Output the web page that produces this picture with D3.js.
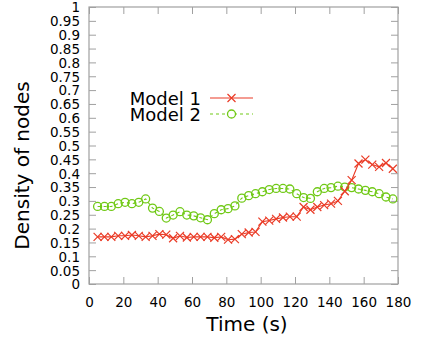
<!DOCTYPE html>
<html>
<head>
<meta charset="utf-8">
<script src="https://cdn.jsdelivr.net/npm/d3@7"></script>
<style>
  html, body { margin: 0; padding: 0; background: #fff; }
  svg { display: block; font-family: "DejaVu Sans", sans-serif; }
</style>
</head>
<body>
<svg id="chart" width="422" height="342"></svg>
<script>
// Sampling times (s)
const times = [5, 9, 13, 17, 21, 25, 29, 33, 37, 41, 45, 49, 53, 57, 61, 65, 69, 73, 77, 81, 85, 89,
  93, 97, 101, 105, 109, 113, 117, 121, 125, 129, 133, 137, 141, 145, 149, 153, 157, 161, 165, 169, 173, 177];

// Density of nodes, Model 1
const model1 = [0.170, 0.170, 0.170, 0.174, 0.174, 0.177, 0.174, 0.170, 0.174, 0.180, 0.178, 0.165,
  0.174, 0.168, 0.170, 0.170, 0.170, 0.167, 0.170, 0.160, 0.162, 0.180, 0.186, 0.188, 0.225, 0.229,
  0.235, 0.240, 0.243, 0.243, 0.278, 0.268, 0.278, 0.285, 0.290, 0.300, 0.335, 0.375, 0.435, 0.449,
  0.431, 0.423, 0.437, 0.416];

// Density of nodes, Model 2
const model2 = [0.280, 0.280, 0.280, 0.290, 0.295, 0.290, 0.295, 0.307, 0.274, 0.262, 0.238, 0.249,
  0.261, 0.249, 0.246, 0.239, 0.232, 0.254, 0.268, 0.272, 0.282, 0.310, 0.319, 0.326, 0.333, 0.341,
  0.345, 0.345, 0.343, 0.326, 0.312, 0.309, 0.333, 0.345, 0.348, 0.353, 0.350, 0.348, 0.343, 0.338,
  0.333, 0.326, 0.314, 0.307];

const seriesNames = ["Model 1", "Model 2"];
const xTicks = d3.range(0, 181, 20);
const yTicks = d3.range(0, 1.0001, 0.05);

const svg = d3.select("#chart");
const plotL = 89, plotR = 398, plotT = 7, plotB = 284;
const x = d3.scaleLinear().domain([0, 180]).range([plotL, plotR]);
const y = d3.scaleLinear().domain([0, 1]).range([plotB, plotT]);

const red = "#ea3b26", green = "#70c916", axisGrey = "#a0a0a0";
const tickLen = 7;

// Axes: labels outside, ticks pointing inward on all four sides
const fmtY = v => d3.format("~g")(+v.toFixed(2));
const gL = svg.append("g").attr("transform", `translate(${plotL},0)`)
  .call(d3.axisLeft(y).tickValues(yTicks).tickSize(-tickLen).tickPadding(9).tickFormat(fmtY));
const gR = svg.append("g").attr("transform", `translate(${plotR},0)`)
  .call(d3.axisRight(y).tickValues(yTicks).tickSize(-tickLen).tickFormat(""));
const gB = svg.append("g").attr("transform", `translate(0,${plotB})`)
  .call(d3.axisBottom(x).tickValues(xTicks).tickSize(-tickLen).tickPadding(13).tickFormat(d3.format("d")));
const gT = svg.append("g").attr("transform", `translate(0,${plotT})`)
  .call(d3.axisTop(x).tickValues(xTicks).tickSize(-tickLen).tickFormat(""));

[gL, gR, gB, gT].forEach(g => {
  g.selectAll(".domain").remove();
  g.selectAll(".tick line").attr("stroke", axisGrey).attr("stroke-width", 1);
  g.selectAll(".tick text").attr("fill", "#000").style("font-size", "13.5px")
    .style("font-family", "DejaVu Sans, sans-serif");
});
gL.selectAll(".tick text").attr("dy", "0.36em");

// Plot frame
svg.append("rect")
  .attr("x", plotL).attr("y", plotT)
  .attr("width", plotR - plotL).attr("height", plotB - plotT)
  .attr("fill", "none").attr("stroke", axisGrey).attr("stroke-width", 1.2);

// Axis titles
svg.append("text")
  .attr("transform", `translate(29,${(plotT + plotB) / 2 + 20}) rotate(-90)`)
  .attr("text-anchor", "middle").style("font-size", "20px").text("Density of nodes");
svg.append("text")
  .attr("x", 247).attr("y", 331)
  .attr("text-anchor", "middle").style("font-size", "20px").text("Time (s)");

const line = d3.line().x(d => x(d[0])).y(d => y(d[1]));
const pts1 = times.map((t, i) => [t, model1[i]]);
const pts2 = times.map((t, i) => [t, model2[i]]);

// Model 2: dashed green line with open circles
svg.append("path").datum(pts2).attr("d", line)
  .attr("fill", "none").attr("stroke", green).attr("stroke-width", 1.1)
  .attr("stroke-dasharray", "3,3");
svg.append("g").selectAll("circle").data(pts2).join("circle")
  .attr("cx", d => x(d[0])).attr("cy", d => y(d[1])).attr("r", 4)
  .attr("fill", "none").attr("stroke", green).attr("stroke-width", 1.3);

// Model 1: solid red line with x markers
const cross = (g, cx, cy, s) => g.append("path")
  .attr("d", `M${cx - s},${cy - s}L${cx + s},${cy + s}M${cx - s},${cy + s}L${cx + s},${cy - s}`)
  .attr("stroke", red).attr("stroke-width", 1.2).attr("fill", "none");
svg.append("path").datum(pts1).attr("d", line)
  .attr("fill", "none").attr("stroke", red).attr("stroke-width", 1.1);
const gx = svg.append("g");
pts1.forEach(d => cross(gx, x(d[0]), y(d[1]), 4));

// Legend
const legend = svg.append("g");
const lx0 = 210, lx1 = 253, rows = [98, 114];
seriesNames.forEach((name, i) => {
  legend.append("text").attr("x", 201).attr("y", rows[i] + 7)
    .attr("text-anchor", "end").style("font-size", "18px").text(name);
});
legend.append("line").attr("x1", lx0).attr("x2", lx1).attr("y1", rows[0]).attr("y2", rows[0])
  .attr("stroke", red).attr("stroke-width", 1.1);
cross(legend, (lx0 + lx1) / 2, rows[0], 4);
legend.append("line").attr("x1", lx0).attr("x2", lx1).attr("y1", rows[1]).attr("y2", rows[1])
  .attr("stroke", green).attr("stroke-width", 1.1).attr("stroke-dasharray", "3,3");
legend.append("circle").attr("cx", (lx0 + lx1) / 2).attr("cy", rows[1]).attr("r", 4)
  .attr("fill", "#fff").attr("stroke", green).attr("stroke-width", 1.3);
</script>
</body>
</html>
